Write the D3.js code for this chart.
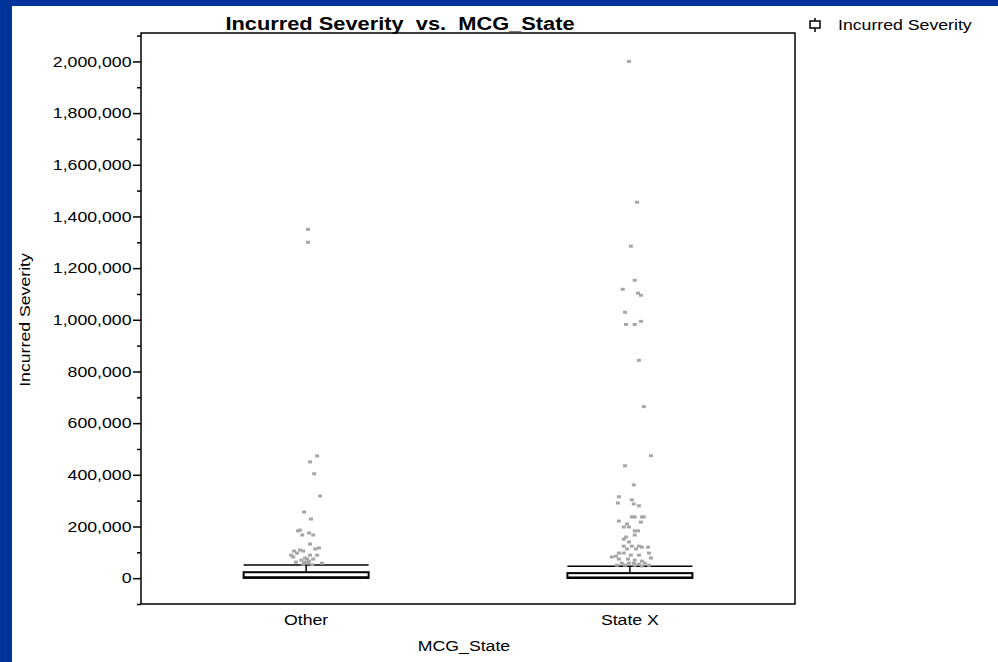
<!DOCTYPE html>
<html lang="en">
<head>
<meta charset="UTF-8">
<title>Incurred Severity vs. MCG_State</title>
<script src="https://d3js.org/d3.v7.min.js"></script>
<style>
    body {
        margin: 0;
        background: #003399;
        overflow: hidden;
    }
    svg {
        display: block;
        font-family: "Liberation Sans", Arial, sans-serif;
    }
    text {
        white-space: pre;
        fill: #000;
    }
</style>
</head>
<body>
<svg id="chart" width="998" height="662"></svg>
<script>
// categories and box statistics
var categories = ["Other", "State X"];
var whiskerLow = [0, 0];
var q1 = [1000, 800];
var medians = [3500, 3000];
var q3 = [23000, 19500];
var whiskerHigh = [50500, 46500];

// outliers, jitter is in category units
var otherOutliers = [1350000, 1300000, 473000, 450000, 404000, 318000, 256000, 229000, 183000, 186000,
    167000, 175000, 167000, 132000, 113000, 117000, 105000, 109000, 105000, 89000,
    97000, 89000, 89000, 82000, 74000, 74000, 62000, 66000, 58000, 62000,
    54000, 58000, 60000, 52000, 70000, 78000];
var otherJitter = [0.006, 0.006, 0.034, 0.012, 0.025, 0.043, -0.006, 0.015, -0.025, -0.019,
    -0.012, 0.009, 0.022, 0.012, 0.028, 0.040, -0.037, -0.019, -0.009, -0.046,
    -0.028, 0.012, 0.034, -0.040, 0.003, 0.022, -0.006, 0.009, 0.049, -0.031,
    -0.009, 0.006, 0.000, 0.019, -0.015, -0.003];

var stateXOutliers = [2000000, 1455000, 1285000, 1153000, 1118000, 1103000, 1095000, 1029000, 982000, 982000,
    994000, 843000, 664000, 474000, 435000, 361000, 315000, 291000, 303000, 287000,
    280000, 237000, 237000, 237000, 237000, 221000, 217000, 210000, 198000, 198000,
    183000, 183000, 167000, 159000, 151000, 140000, 124000, 124000, 124000, 113000,
    113000, 120000, 120000, 97000, 97000, 89000, 89000, 97000, 82000, 74000,
    74000, 70000, 66000, 78000, 58000, 58000, 58000, 54000, 58000, 50000,
    50000, 50000, 50000, 47000, 85000];
var stateXJitter = [-0.003, 0.022, 0.003, 0.015, -0.022, 0.025, 0.034, -0.015, -0.012, 0.015,
    0.034, 0.028, 0.043, 0.065, -0.015, 0.012, -0.034, -0.037, 0.006, 0.012,
    0.028, 0.006, 0.015, 0.037, 0.043, -0.034, 0.034, -0.009, -0.003, -0.019,
    0.015, 0.025, 0.015, -0.012, -0.019, -0.003, -0.019, 0.006, 0.028, -0.009,
    0.019, 0.037, 0.056, -0.034, -0.019, 0.003, 0.028, 0.059, -0.056, -0.034,
    -0.006, 0.015, 0.037, 0.065, -0.025, -0.003, 0.012, 0.028, 0.046, -0.040,
    0.059, -0.015, 0.015, 0.037, -0.043];

var yMajorTicks = [0, 200000, 400000, 600000, 800000, 1000000, 1200000, 1400000, 1600000, 1800000, 2000000];
var yMinorTicks = [-100000, 100000, 300000, 500000, 700000, 900000, 1100000, 1300000, 1500000, 1700000, 1900000, 2100000];

var stretch = 1.18;  // text in the original is rendered wide

var svg = d3.select("#chart");

// white page area inside the blue border
svg.append("rect")
    .attr("x", 12).attr("y", 6)
    .attr("width", 998 - 12).attr("height", 662 - 6)
    .attr("fill", "#fff");

var plot = { left: 141, right: 795, top: 33, bottom: 604 };

var x = d3.scaleLinear()
    .domain([-0.51, 1.51])
    .range([plot.left, plot.right]);

var y = d3.scaleLinear()
    .domain([-100000, 2110000])
    .range([plot.bottom, plot.top]);

var halfBox = 0.193;

// boxes
var boxes = svg.append("g");
categories.forEach(function (c, i) {
    var g = boxes.append("g");
    // whisker
    g.append("line")
        .attr("x1", x(i)).attr("x2", x(i))
        .attr("y1", y(q3[i])).attr("y2", y(whiskerHigh[i]))
        .attr("stroke", "#000").attr("stroke-width", 1.5);
    g.append("line")
        .attr("x1", x(i - halfBox)).attr("x2", x(i + halfBox))
        .attr("y1", y(whiskerHigh[i])).attr("y2", y(whiskerHigh[i]))
        .attr("stroke", "#000").attr("stroke-width", 1.5);
    g.append("rect")
        .attr("x", x(i - halfBox))
        .attr("y", y(q3[i]))
        .attr("width", x(i + halfBox) - x(i - halfBox))
        .attr("height", y(q1[i]) - y(q3[i]))
        .attr("fill", "#fff")
        .attr("stroke", "#000").attr("stroke-width", 2);
    g.append("line")
        .attr("x1", x(i - halfBox)).attr("x2", x(i + halfBox))
        .attr("y1", y(medians[i])).attr("y2", y(medians[i]))
        .attr("stroke", "#000").attr("stroke-width", 2);
});

// outliers
var outliers = [];
otherOutliers.forEach(function (v, k) { outliers.push({ cat: 0, jit: otherJitter[k], value: v }); });
stateXOutliers.forEach(function (v, k) { outliers.push({ cat: 1, jit: stateXJitter[k], value: v }); });

svg.append("g").selectAll("rect")
    .data(outliers)
    .enter().append("rect")
    .attr("x", d => x(d.cat + d.jit) - 2)
    .attr("y", d => y(d.value) - 1.5)
    .attr("width", 4)
    .attr("height", 3)
    .attr("fill", "#a6a6a6");

// frame
svg.append("rect")
    .attr("x", plot.left).attr("y", plot.top)
    .attr("width", plot.right - plot.left)
    .attr("height", plot.bottom - plot.top)
    .attr("fill", "none")
    .attr("stroke", "#000").attr("stroke-width", 1.5);

// y axis
var yAxis = svg.append("g")
    .attr("transform", "translate(" + plot.left + ",0)")
    .call(d3.axisLeft(y).tickValues(yMajorTicks).tickSize(8).tickFormat(d3.format(",")));
yAxis.select(".domain").remove();
yAxis.selectAll("line").attr("stroke-width", 1.5);
yAxis.selectAll("text")
    .attr("x", -9.5 / stretch)
    .attr("transform", "scale(" + stretch + ",1)")
    .style("font-size", "15px")
    .attr("fill", "#000");

var yMinor = svg.append("g")
    .attr("transform", "translate(" + plot.left + ",0)")
    .call(d3.axisLeft(y).tickValues(yMinorTicks).tickSize(4).tickFormat(""));
yMinor.select(".domain").remove();
yMinor.selectAll("line").attr("stroke-width", 1.5);

// category labels
svg.append("g").selectAll("text")
    .data(categories)
    .enter().append("text")
    .attr("transform", (d, i) => "translate(" + x(i) + ",625) scale(" + stretch + ",1)")
    .attr("text-anchor", "middle")
    .style("font-size", "15px")
    .text(d => d);

// axis titles
svg.append("text")
    .attr("transform", "translate(" + ((plot.left + plot.right) / 2 - 4) + ",651) scale(" + stretch + ",1)")
    .attr("text-anchor", "middle")
    .style("font-size", "15px")
    .text("MCG_State");

svg.append("text")
    .attr("transform", "translate(30,320) rotate(-90) scale(" + stretch + ",1)")
    .attr("text-anchor", "middle")
    .style("font-size", "15px")
    .text("Incurred Severity");

// title
svg.append("text")
    .attr("transform", "translate(400,30) scale(" + stretch + ",1)")
    .attr("text-anchor", "middle")
    .style("font-size", "18.5px")
    .style("font-weight", "bold")
    .text("Incurred Severity  vs.  MCG_State");

// legend
var legend = svg.append("g").attr("transform", "translate(815,25)");
legend.append("line").attr("x1", 0).attr("x2", 0).attr("y1", -7).attr("y2", 7)
    .attr("stroke", "#000").attr("stroke-width", 1.5);
legend.append("rect").attr("x", -5).attr("y", -4).attr("width", 10).attr("height", 7)
    .attr("fill", "#fff").attr("stroke", "#000").attr("stroke-width", 1.5);
legend.append("text")
    .attr("transform", "translate(23,5) scale(" + stretch + ",1)")
    .style("font-size", "15px")
    .text("Incurred Severity");
</script>
</body>
</html>
